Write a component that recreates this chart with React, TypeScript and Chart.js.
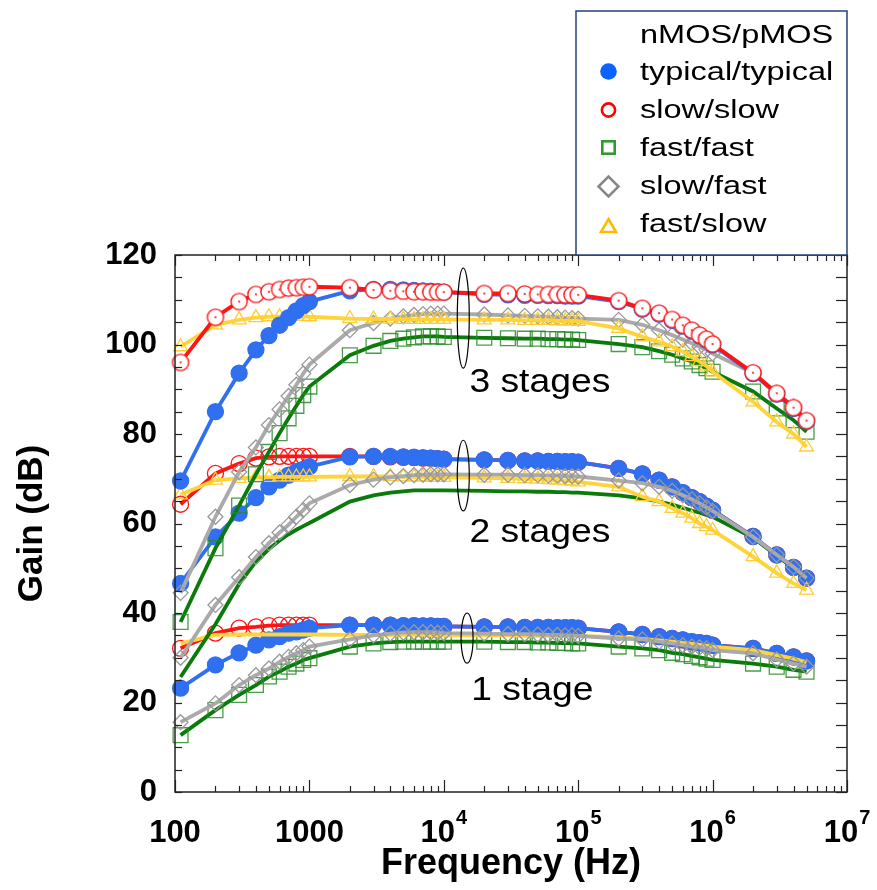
import { useEffect, useRef } from 'react';
import { Chart, registerables } from 'chart.js';
Chart.register(...registerables);

const FONT = '"Liberation Sans", Arial, Helvetica, sans-serif';

// Frequencies (Hz) of the measured points
const FREQ = [110, 200, 300, 400, 500, 600, 700, 800, 900, 1e3,
  2e3, 3e3, 4e3, 5e3, 6e3, 7e3, 8e3, 9e3, 1e4,
  2e4, 3e4, 4e4, 5e4, 6e4, 7e4, 8e4, 9e4, 1e5,
  2e5, 3e5, 4e5, 5e5, 6e5, 7e5, 8e5, 9e5, 1e6,
  2e6, 3e6, 4e6, 5e6];

// ---- 3 stages ----
const TYP3 = [69.5, 85.0, 93.6, 98.8, 102.0, 104.3, 106.0, 107.5, 108.7, 109.6, 112.0, 112.3, 112.3, 112.2, 112.1, 112.0, 111.9, 111.8, 111.7, 111.2, 111.1, 111.0, 111.0, 110.9, 110.9, 110.8, 110.8, 110.8, 109.6, 107.9, 106.8, 105.4, 104.1, 103.0, 101.9, 101.0, 99.9, 93.5, 88.9, 85.7, 82.8];
const SS3 = [96.0, 106.1, 109.6, 111.2, 111.8, 112.3, 112.6, 112.7, 112.8, 112.9, 112.7, 112.2, 112.0, 111.9, 111.8, 111.8, 111.7, 111.7, 111.7, 111.4, 111.4, 111.3, 111.2, 111.2, 111.2, 111.1, 111.1, 111.1, 109.8, 108.1, 107.0, 105.6, 104.3, 103.2, 102.1, 101.2, 100.1, 93.7, 89.1, 85.9, 83.0];
const FF3 = [38.0, 54.5, 64.0, 71.0, 76.0, 80.2, 83.5, 86.3, 88.7, 90.6, 97.6, 99.7, 100.8, 101.3, 101.6, 101.8, 101.8, 101.8, 101.7, 101.5, 101.4, 101.3, 101.3, 101.2, 101.2, 101.1, 101.1, 101.0, 100.1, 99.4, 98.5, 97.7, 96.9, 96.2, 95.4, 94.7, 93.9, 89.5, 85.7, 83.1, 80.5];
const SF3 = [44.5, 61.5, 71.5, 77.0, 82.0, 85.5, 88.5, 91.0, 93.5, 95.5, 103.2, 104.8, 105.8, 106.3, 106.6, 106.8, 106.9, 106.9, 106.9, 106.7, 106.5, 106.4, 106.3, 106.2, 106.1, 106.0, 105.9, 105.8, 105.5, 104.4, 103.2, 102.1, 101.1, 100.3, 99.5, 98.8, 98.0, 93.6, 89.2, 86.1, 83.1];
const FS3 = [99.5, 104.4, 105.5, 106.0, 106.2, 106.2, 106.3, 106.3, 106.3, 106.2, 105.8, 105.7, 105.7, 105.6, 105.6, 105.6, 105.6, 105.6, 105.6, 105.5, 105.5, 105.4, 105.4, 105.4, 105.3, 105.3, 105.3, 105.2, 103.6, 101.7, 100.6, 99.5, 98.4, 97.3, 96.2, 95.2, 93.9, 87.2, 82.7, 80.0, 77.1];

// ---- 2 stages ----
const TYP2 = [46.6, 57.0, 62.3, 65.8, 68.2, 69.7, 70.8, 71.6, 72.1, 72.7, 74.9, 75.0, 75.0, 74.9, 74.8, 74.7, 74.6, 74.5, 74.4, 74.2, 74.1, 74.0, 74.0, 73.9, 73.9, 73.8, 73.8, 73.7, 72.3, 71.1, 69.7, 68.2, 66.9, 65.8, 64.9, 63.9, 63.0, 57.1, 53.0, 50.2, 47.8];
const SS2 = [64.3, 71.2, 73.4, 74.6, 74.9, 75.0, 75.0, 75.0, 75.0, 75.0, 75.0, 75.0, 74.9, 74.8, 74.7, 74.6, 74.6, 74.5, 74.4, 74.2, 74.1, 74.0, 74.0, 73.9, 73.9, 73.8, 73.8, 73.7, 72.3, 71.1, 69.7, 68.2, 66.9, 65.8, 64.9, 63.9, 63.0, 57.1, 53.0, 50.2, 47.8];
const FF2 = [25.7, 37.5, 46.5, 51.5, 54.3, 56.2, 57.6, 58.6, 59.4, 60.1, 64.9, 66.3, 66.9, 67.2, 67.4, 67.4, 67.4, 67.4, 67.4, 67.3, 67.2, 67.2, 67.1, 67.1, 67.0, 67.0, 66.9, 66.9, 66.3, 65.6, 64.9, 64.2, 63.5, 62.9, 62.4, 61.9, 61.5, 56.8, 52.8, 50.0, 47.5];
const SF2 = [30.0, 41.8, 48.0, 52.5, 55.6, 58.0, 59.7, 61.5, 63.0, 64.5, 68.6, 69.8, 70.3, 70.6, 70.8, 70.9, 71.0, 71.0, 71.0, 70.9, 70.9, 70.8, 70.8, 70.7, 70.7, 70.6, 70.6, 70.5, 69.6, 69.0, 68.2, 67.3, 66.3, 65.4, 64.5, 63.6, 62.8, 57.0, 53.0, 50.3, 47.8];
const FS2 = [66.4, 69.7, 70.1, 70.3, 70.3, 70.4, 70.4, 70.4, 70.4, 70.4, 70.5, 70.5, 70.5, 70.4, 70.4, 70.4, 70.3, 70.3, 70.3, 70.2, 70.1, 70.0, 69.9, 69.8, 69.7, 69.6, 69.5, 69.3, 68.2, 66.0, 64.9, 63.4, 62.3, 61.2, 60.0, 59.3, 58.5, 52.6, 48.9, 46.6, 45.1];

// ---- 1 stage ----
const TYP1 = [23.2, 28.4, 31.1, 32.8, 34.0, 34.7, 35.5, 35.8, 36.2, 36.6, 37.3, 37.3, 37.3, 37.2, 37.2, 37.1, 37.1, 37.0, 37.0, 36.9, 36.9, 36.8, 36.8, 36.8, 36.7, 36.7, 36.7, 36.6, 35.8, 35.2, 34.7, 34.3, 34.0, 33.6, 33.4, 33.2, 32.8, 32.1, 31.0, 30.2, 29.3];
const SS1 = [32.1, 35.5, 36.6, 36.9, 37.2, 37.3, 37.3, 37.3, 37.3, 37.3, 37.3, 37.3, 37.3, 37.2, 37.2, 37.1, 37.1, 37.0, 37.0, 36.9, 36.9, 36.8, 36.8, 36.8, 36.7, 36.7, 36.7, 36.6, 35.8, 35.2, 34.7, 34.3, 34.0, 33.6, 33.4, 33.2, 32.8, 32.1, 31.0, 30.2, 29.3];
const FF1 = [12.7, 18.3, 21.7, 23.9, 25.8, 26.9, 28.0, 28.7, 29.5, 29.9, 32.5, 33.2, 33.5, 33.6, 33.6, 33.6, 33.6, 33.6, 33.6, 33.6, 33.5, 33.5, 33.4, 33.4, 33.3, 33.3, 33.2, 33.2, 32.5, 32.1, 31.7, 31.1, 30.8, 30.4, 30.1, 29.8, 29.5, 28.7, 28.0, 27.3, 26.9];
const SF1 = [15.6, 19.8, 23.9, 26.1, 27.6, 29.1, 30.2, 31.0, 31.7, 32.5, 34.1, 35.0, 35.4, 35.6, 35.7, 35.7, 35.7, 35.6, 35.5, 35.4, 35.3, 35.3, 35.2, 35.1, 35.1, 35.0, 35.0, 34.9, 34.3, 34.1, 33.6, 33.2, 32.8, 32.5, 32.3, 32.1, 31.7, 31.0, 29.6, 28.7, 28.0];
const FS1 = [33.2, 35.1, 35.2, 35.2, 35.2, 35.2, 35.2, 35.2, 35.2, 35.2, 35.1, 35.1, 35.1, 35.1, 35.1, 35.1, 35.0, 35.0, 35.0, 35.0, 35.0, 34.9, 34.9, 34.9, 34.9, 34.9, 34.9, 34.9, 34.6, 34.2, 33.9, 33.6, 33.3, 33.1, 32.9, 32.7, 32.5, 31.7, 30.6, 29.8, 29.0];

// Axis ticks / labels
const X_DECADES = [100, 1e3, 1e4, 1e5, 1e6, 1e7];
const X_LABEL_BASE = ['100', '1000', '10', '10', '10', '10'];
const X_LABEL_EXP = ['', '', '4', '5', '6', '7'];
const X_MINOR_MULT = [1, 2, 3, 4, 5, 6, 7, 8, 9];

// Legend
const LEGEND_TITLE = 'nMOS/pMOS';
const LEGEND_LABELS = ['typical/typical', 'slow/slow', 'fast/fast', 'slow/fast', 'fast/slow'];

// Annotations
const STAGE_LABELS = ['3 stages', '2 stages', '1 stage'];
const STAGE_FREQ = [15500, 15500, 16000];
const STAGE_BASE_DB = [89.4, 55.9, 20.6];
const ELLIPSE_FREQ = [13960, 13960, 14900];
const ELLIPSE_MID_DB = [105.9, 70.7, 34.4];
const ELLIPSE_HALF_DB = [11.2, 7.9, 5.6];

const BLUE = '#2f6ff0';
const RED = '#ff1414';
const GREEN_LINE = '#0a7a0a';
const GREEN_PT = 'rgba(40,140,40,0.85)';
const GRAY_LINE = '#aaaaaa';
const GRAY_PT = '#999999';
const YEL_LINE = '#ffd43a';
const YEL_PT = '#ffcc33';

const isDecade = (v: number) => Math.abs(Math.log10(v) - Math.round(Math.log10(v))) < 1e-9;

function makeDotCircle() {
  const c = document.createElement('canvas');
  c.width = 20; c.height = 20;
  const g = c.getContext('2d')!;
  g.beginPath(); g.arc(10, 10, 8.1, 0, Math.PI * 2);
  g.fillStyle = '#ffffff'; g.fill();
  g.lineWidth = 1.4; g.strokeStyle = RED; g.stroke();
  g.beginPath(); g.arc(10, 10, 1.1, 0, Math.PI * 2);
  g.fillStyle = RED; g.fill();
  return c;
}

const pts = (arr: number[]) => FREQ.map((f, i) => ({ x: f, y: arr[i] }));

function sText(ctx: CanvasRenderingContext2D, text: string, x: number, y: number, sx: number) {
  ctx.save();
  ctx.translate(x, y);
  ctx.scale(sx, 1);
  ctx.fillText(text, 0, 0);
  ctx.restore();
}

const framePlugin = {
  id: 'frame',
  afterDatasetsDraw(chart: any) {
    const { ctx, chartArea, scales } = chart;
    const { left, right, top, bottom } = chartArea;
    const x = scales.x, y = scales.y;
    ctx.save();
    // ellipses + stage labels
    ctx.strokeStyle = '#000'; ctx.lineWidth = 1.2;
    for (let i = 0; i < 3; i++) {
      const cx = x.getPixelForValue(ELLIPSE_FREQ[i]);
      const cy = y.getPixelForValue(ELLIPSE_MID_DB[i]);
      const ry = Math.abs(y.getPixelForValue(ELLIPSE_MID_DB[i] + ELLIPSE_HALF_DB[i]) - cy);
      ctx.beginPath(); ctx.ellipse(cx, cy, 6, ry, 0, 0, Math.PI * 2); ctx.stroke();
    }
    ctx.fillStyle = '#000';
    ctx.font = `33px ${FONT}`;
    ctx.textAlign = 'left'; ctx.textBaseline = 'alphabetic';
    for (let i = 0; i < 3; i++) {
      sText(ctx, STAGE_LABELS[i], x.getPixelForValue(STAGE_FREQ[i]), y.getPixelForValue(STAGE_BASE_DB[i]), 1.13);
    }
    // tick marks (inward)
    ctx.strokeStyle = '#222'; ctx.lineWidth = 1.2;
    const seg = (a: number, b: number, c: number, d: number) => { ctx.beginPath(); ctx.moveTo(a, b); ctx.lineTo(c, d); ctx.stroke(); };
    x.ticks.forEach((t: any) => {
      const px = Math.round(x.getPixelForValue(t.value)) + 0.5;
      const major = isDecade(t.value);
      seg(px, bottom, px, bottom - (major ? 12 : 6));
      seg(px, top, px, top + (major ? 11 : 6));
    });
    y.ticks.forEach((t: any) => {
      const py = Math.round(y.getPixelForValue(t.value)) + 0.5;
      seg(left, py, left + 7, py);
      seg(right, py, right - 11, py);
    });
    ctx.lineWidth = 1.5; ctx.strokeStyle = '#222';
    ctx.strokeRect(left, top, right - left, bottom - top);

    // x tick labels with superscript exponents
    ctx.fillStyle = '#000';
    ctx.textBaseline = 'alphabetic'; ctx.textAlign = 'left';
    const baseFont = `bold 31px ${FONT}`;
    const expFont = `bold 20px ${FONT}`;
    X_DECADES.forEach((d, i) => {
      const px = x.getPixelForValue(d);
      ctx.font = baseFont;
      const w1 = ctx.measureText(X_LABEL_BASE[i]).width;
      let w2 = 0;
      if (X_LABEL_EXP[i]) { ctx.font = expFont; w2 = ctx.measureText(X_LABEL_EXP[i]).width + 1; }
      const sx = px - (w1 + w2) / 2;
      ctx.font = baseFont;
      ctx.fillText(X_LABEL_BASE[i], sx, 842);
      if (X_LABEL_EXP[i]) { ctx.font = expFont; ctx.fillText(X_LABEL_EXP[i], sx + w1 + 1, 824); }
    });
    ctx.restore();
  },
  afterDraw(chart: any) {
    const { ctx } = chart;
    ctx.save();
    const bx = 576, by = 11, bw = 271, bh = 244;
    ctx.fillStyle = '#fff';
    ctx.fillRect(bx, by, bw, bh);
    ctx.strokeStyle = '#24407a'; ctx.lineWidth = 1.5;
    ctx.strokeRect(bx, by, bw, bh);
    ctx.fillStyle = '#000';
    ctx.font = `26px ${FONT}`;
    ctx.textAlign = 'left'; ctx.textBaseline = 'alphabetic';
    const tx = 640;
    sText(ctx, LEGEND_TITLE, tx, 42.5, 1.25);
    const baselines = [80, 118, 156, 194, 232];
    const mY = [71.5, 110, 147.5, 186.5, 226];
    const mx = 608.5;
    LEGEND_LABELS.forEach((lab, i) => { ctx.fillStyle = '#000'; sText(ctx, lab, tx, baselines[i], 1.25); });
    // markers
    ctx.lineWidth = 2.6;
    ctx.fillStyle = '#0a62ff';
    ctx.beginPath(); ctx.arc(mx, mY[0], 8.3, 0, Math.PI * 2); ctx.fill();
    ctx.strokeStyle = '#ff0000';
    ctx.beginPath(); ctx.arc(mx, mY[1], 6.6, 0, Math.PI * 2); ctx.stroke();
    ctx.strokeStyle = '#2f9a2f';
    ctx.strokeRect(mx - 6.2, mY[2] - 6.2, 12.4, 12.4);
    ctx.strokeStyle = '#888888';
    ctx.beginPath(); ctx.moveTo(mx - 10, mY[3]); ctx.lineTo(mx, mY[3] - 10); ctx.lineTo(mx + 10, mY[3]); ctx.lineTo(mx, mY[3] + 10); ctx.closePath(); ctx.stroke();
    ctx.strokeStyle = '#ffbb00';
    ctx.beginPath(); ctx.moveTo(mx, mY[4] - 7); ctx.lineTo(mx + 7.5, mY[4] + 6); ctx.lineTo(mx - 7.5, mY[4] + 6); ctx.closePath(); ctx.stroke();
    ctx.restore();
  },
};

export default function App() {
  const ref = useRef<HTMLCanvasElement>(null);
  useEffect(() => {
    document.body.style.margin = '0';
    const dot = makeDotCircle();
    const base = { borderWidth: 3.8, clip: false as any, pointBorderWidth: 1.3, tension: 0 };
    const mk = (label: string, data: number[], kind: string, stage: number, order: number) => {
      const common: any = { ...base, label, data: pts(data), order };
      if (kind === 'typ') return { ...common, borderColor: BLUE, pointStyle: 'circle', pointRadius: 8, pointBackgroundColor: BLUE, pointBorderColor: BLUE };
      if (kind === 'ss') {
        if (stage === 3) return { ...common, borderColor: RED, pointStyle: dot, pointRadius: 8 };
        return { ...common, borderColor: RED, pointStyle: 'circle', pointRadius: 8, pointBackgroundColor: 'rgba(0,0,0,0)', pointBorderColor: RED };
      }
      if (kind === 'ff') return { ...common, borderColor: GREEN_LINE, pointStyle: 'rect', pointRadius: stage === 2 ? 0 : 10.5, pointBackgroundColor: 'rgba(0,0,0,0)', pointBorderColor: GREEN_PT };
      if (kind === 'sf') return { ...common, borderColor: GRAY_LINE, pointStyle: 'rectRot', pointRadius: 7.5, pointBackgroundColor: 'rgba(0,0,0,0)', pointBorderColor: GRAY_PT };
      return { ...common, borderColor: YEL_LINE, pointStyle: 'triangle', pointRadius: stage === 1 ? 0 : 8, pointBackgroundColor: 'rgba(0,0,0,0)', pointBorderColor: YEL_PT };
    };
    const datasets = [
      mk('slow/slow 3', SS3, 'ss', 3, 1),
      mk('typical/typical 3', TYP3, 'typ', 3, 2),
      mk('fast/slow 3', FS3, 'fs', 3, 3),
      mk('slow/fast 3', SF3, 'sf', 3, 4),
      mk('fast/fast 3', FF3, 'ff', 3, 5),
      mk('slow/fast 2', SF2, 'sf', 2, 6),
      mk('fast/slow 2', FS2, 'fs', 2, 7),
      mk('typical/typical 2', TYP2, 'typ', 2, 8),
      mk('slow/slow 2', SS2, 'ss', 2, 9),
      mk('fast/fast 2', FF2, 'ff', 2, 10),
      mk('slow/fast 1', SF1, 'sf', 1, 11),
      mk('fast/slow 1', FS1, 'fs', 1, 12),
      mk('typical/typical 1', TYP1, 'typ', 1, 13),
      mk('slow/slow 1', SS1, 'ss', 1, 14),
      mk('fast/fast 1', FF1, 'ff', 1, 15),
    ];
    const xTicks: number[] = [];
    for (let d = 0; d < X_DECADES.length - 1; d++) X_MINOR_MULT.forEach((m) => xTicks.push(X_DECADES[d] * m));
    xTicks.push(X_DECADES[X_DECADES.length - 1]);

    const chart = new Chart(ref.current!, {
      type: 'line',
      data: { datasets } as any,
      plugins: [framePlugin as any],
      options: {
        animation: false,
        responsive: false,
        devicePixelRatio: 1,
        layout: { padding: { left: 0, right: 30, top: 255, bottom: 0 } },
        plugins: { legend: { display: false }, tooltip: { enabled: false } },
        scales: {
          x: {
            type: 'logarithmic',
            position: 'bottom',
            min: 100,
            max: 1e7,
            grid: { display: false, drawTicks: false, tickLength: 0 },
            border: { display: false },
            afterBuildTicks: (s: any) => { s.ticks = xTicks.map((v) => ({ value: v })); },
            afterFit: (s: any) => { s.height = 98; s.paddingLeft = 0; s.paddingRight = 0; },
            ticks: { display: false, autoSkip: false, maxRotation: 0, minRotation: 0 },
            title: { display: true, text: 'Frequency (Hz)', color: '#000', font: { family: FONT, size: 36, weight: 'bold' }, padding: { top: 0, bottom: 4 } },
          },
          y: {
            min: 0,
            max: 120,
            grid: { display: false, drawTicks: false, tickLength: 0 },
            border: { display: false },
            afterFit: (s: any) => { s.width = 175; },
            ticks: {
              stepSize: 5,
              autoSkip: false,
              padding: 18,
              color: '#000',
              font: { family: FONT, size: 31, weight: 'bold' },
              callback: (v: any) => (Number(v) % 20 === 0 ? String(v) : ''),
            },
            title: { display: true, text: 'Gain (dB)', color: '#000', font: { family: FONT, size: 35, weight: 'bold' }, padding: { top: 11, bottom: 0 } },
          },
        },
      } as any,
    });
    return () => chart.destroy();
  }, []);
  return (
    <div style={{ position: 'relative', width: 877, height: 890 }}>
      <canvas ref={ref} width={877} height={890} style={{ display: 'block', width: 877, height: 890 }} />
    </div>
  );
}
